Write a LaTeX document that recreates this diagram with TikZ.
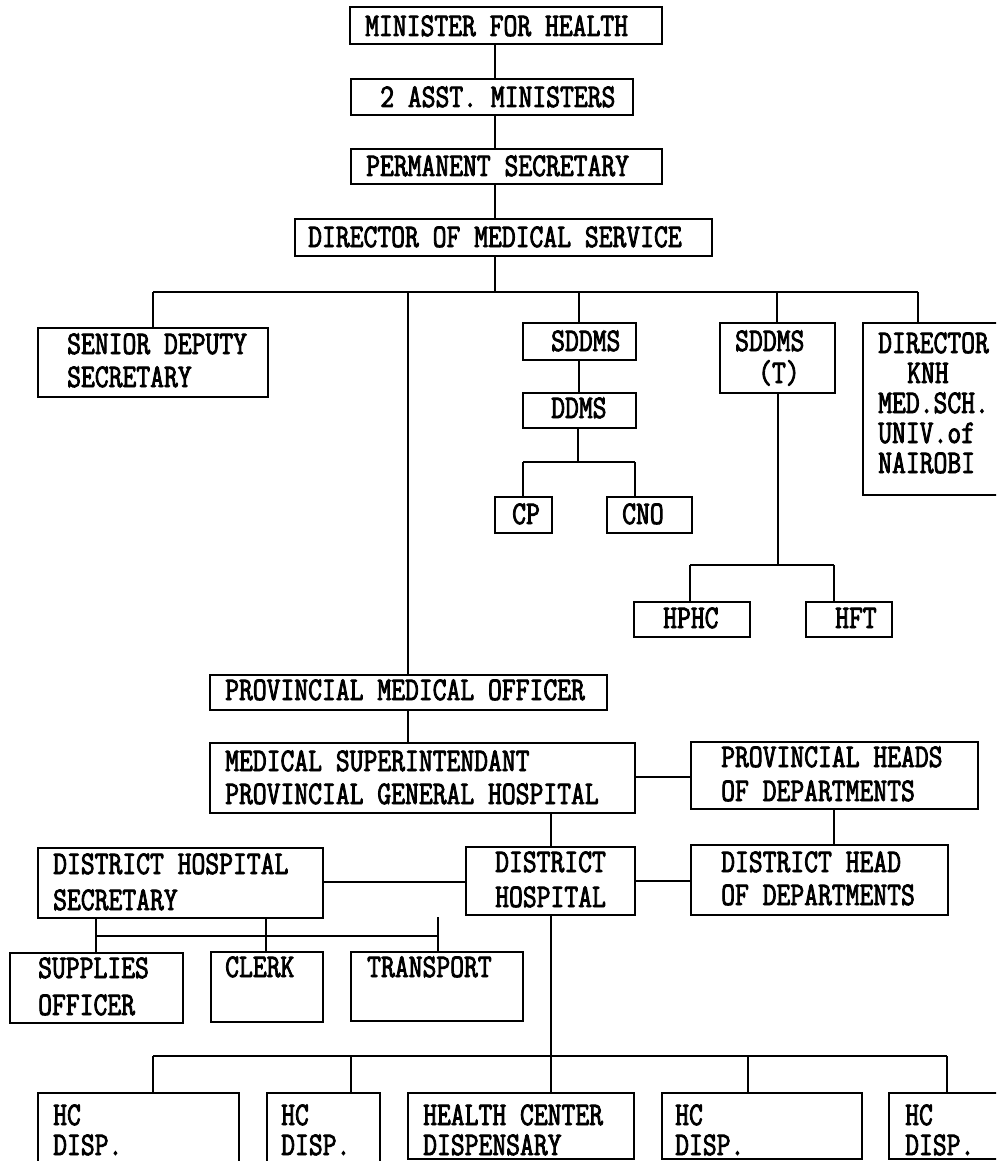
\documentclass[tikz,border=0pt]{standalone}
\usepackage{fontspec}
\newfontfamily\mfont[FakeStretch=0.814,FakeBold=2.5]{Latin Modern Mono}
\newcommand\lns[2]{\vtop{\baselineskip=#1pt\lineskiplimit=-\maxdimen\lineskip=0pt\halign{##\hfil\cr#2\crcr}}}
\tikzset{
  box/.style={draw, line width=1.2pt, inner sep=0pt, rectangle},
  txt/.style={anchor=base west, inner sep=0pt, font=\mfont\fontsize{33}{33}\selectfont},
  ln/.style={line width=1.2pt}
}
\newcommand\bx[5]{\node[box, minimum width={#4-#2}, minimum height={#5-#3}] (#1) at ({(#2+#4)/2},{(#3+#5)/2}) {};}
\begin{document}
\begin{tikzpicture}[x=1pt,y=-1pt]
\useasboundingbox (0,0) rectangle (996,1161);
\clip (0,0) rectangle (996,1161);
% boxes
\bx{min}{350}{7}{662}{44}
\bx{asst}{351}{79}{633}{115}
\bx{ps}{351}{149}{662}{184}
\bx{dms}{295}{219}{712}{256}
\bx{sds}{38}{328}{268}{397}
\bx{sddms}{523}{323}{636}{360}
\bx{ddms}{523}{393}{636}{428}
\bx{cp}{495}{497}{552}{533}
\bx{cno}{607}{497}{692}{533}
\bx{sddmst}{720}{323}{835}{393}
\bx{dir}{863}{323}{1002}{495}
\bx{hphc}{634}{602}{750}{637}
\bx{hft}{806}{602}{892}{637}
\bx{pmo}{210}{675}{607}{710}
\bx{ms}{210}{743}{635}{813}
\bx{phod}{691}{742}{978}{809}
\bx{dhs}{38}{848}{323}{918}
\bx{dh}{466}{847}{635}{915}
\bx{dhod}{691}{845}{948}{915}
\bx{sup}{10}{953}{183}{1023}
\bx{clerk}{211}{952}{323}{1022}
\bx{trans}{351}{952}{523}{1021}
\bx{bA}{38}{1093}{239}{1166}
\bx{bB}{267}{1093}{380}{1166}
\bx{bC}{408}{1093}{634}{1159}
\bx{bD}{662}{1093}{862}{1159}
\bx{bE}{889}{1093}{1002}{1159}
% texts
\node[txt] (min-t) at (365,36) {MINISTER FOR HEALTH};
\node[txt] (asst-t) at (380,107) {2 ASST. MINISTERS};
\node[txt] (ps-t) at (366,176) {PERMANENT SECRETARY};
\node[txt] (dms-t) at (308,247) {DIRECTOR OF MEDICAL SERVICE};
\node[txt] (sds-t) at (67,354) {\lns{33}{SENIOR DEPUTY\cr SECRETARY}};
\node[txt] (sddms-t) at (551,351) {SDDMS};
\node[txt] (ddms-t) at (551,418) {DDMS};
\node[txt] (cp-t) at (512,524) {CP};
\node[txt] (cno-t) at (622,524) {CNO};
\node[txt] (sddmst-t) at (735,351) {\lns{32}{SDDMS\cr\kern23pt(T)}};
\node[txt] (dir-t) at (878,353) {\lns{30}{DIRECTOR\cr\kern29pt KNH\cr MED.SCH.\cr UNIV.of\cr NAIROBI}};
\node[txt] (hphc-t) at (663,628) {HPHC};
\node[txt] (hft-t) at (835,628) {HFT};
\node[txt] (pmo-t) at (225,700) {PROVINCIAL MEDICAL OFFICER};
\node[txt] (ms-t) at (225,771) {\lns{33}{MEDICAL SUPERINTENDANT\cr PROVINCIAL GENERAL HOSPITAL}};
\node[txt] (phod-t) at (721,767) {\lns{34}{PROVINCIAL HEADS\cr OF DEPARTMENTS}};
\node[txt] (dhs-t) at (53,874) {\lns{36}{DISTRICT HOSPITAL\cr SECRETARY}};
\node[txt] (dh-t) at (495,872) {\lns{35}{DISTRICT\cr HOSPITAL}};
\node[txt] (dhod-t) at (721,872) {\lns{33}{DISTRICT HEAD\cr OF DEPARTMENTS}};
\node[txt] (sup-t) at (38,978) {\lns{37}{SUPPLIES\cr OFFICER}};
\node[txt] (clerk-t) at (225,977) {CLERK};
\node[txt] (trans-t) at (367,977) {TRANSPORT};
\node[txt] (bA-t) at (53,1125) {\lns{30}{HC\cr DISP.}};
\node[txt] (bB-t) at (281,1125) {\lns{30}{HC\cr DISP.}};
\node[txt] (bC-t) at (423,1125) {\lns{30}{HEALTH CENTER\cr DISPENSARY}};
\node[txt] (bD-t) at (675,1125) {\lns{30}{HC\cr DISP.}};
\node[txt] (bE-t) at (905,1125) {\lns{30}{HC\cr DISP.}};
% coordinates
\coordinate (tA) at (495,292);
\coordinate (bL) at (153,292);
\coordinate (bR) at (918,292);
\coordinate (bP) at (408,292);
\coordinate (bS) at (579,292);
\coordinate (bT) at (777,292);
\coordinate (cM) at (578,462);
\coordinate (cL) at (523,462);
\coordinate (cR) at (635,462);
\coordinate (hM) at (778,565);
\coordinate (hL) at (690,565);
\coordinate (hR) at (834,565);
\coordinate (yMP) at (0,777);
\coordinate (xPD) at (834,0);
\coordinate (xDH) at (551,0);
\coordinate (yDD) at (0,881);
\coordinate (yDS) at (0,882);
\coordinate (sL) at (96,936);
\coordinate (sC) at (266,936);
\coordinate (sR) at (438,936);
\coordinate (sT) at (438,917);
\coordinate (wL) at (153,1056);
\coordinate (wR) at (947,1056);
\coordinate (wC) at (551,1056);
\coordinate (wB) at (351,1056);
\coordinate (wD) at (748,1056);
% connectors
\draw[ln] (min.south -| tA) -- (asst.north -| tA);
\draw[ln] (asst.south -| tA) -- (ps.north -| tA);
\draw[ln] (ps.south -| tA) -- (dms.north -| tA);
\draw[ln] (dms.south -| tA) -- (tA);
\draw[ln] (bL) -- (bR);
\draw[ln] (bL) -- (sds.north -| bL);
\draw[ln] (bP) -- (pmo.north -| bP);
\draw[ln] (bS) -- (sddms.north -| bS);
\draw[ln] (bT) -- (sddmst.north -| bT);
\draw[ln] (bR) -- (dir.north -| bR);
\draw[ln] (sddms.south -| bS) -- (ddms.north -| bS);
\draw[ln] (ddms.south -| cM) -- (cM);
\draw[ln] (cL) -- (cR);
\draw[ln] (cL) -- (cp.north -| cL);
\draw[ln] (cR) -- (cno.north -| cR);
\draw[ln] (sddmst.south -| hM) -- (hM);
\draw[ln] (hL) -- (hR);
\draw[ln] (hL) -- (hphc.north -| hL);
\draw[ln] (hR) -- (hft.north -| hR);
\draw[ln] (pmo.south -| bP) -- (ms.north -| bP);
\draw[ln] (ms.east |- yMP) -- (phod.west |- yMP);
\draw[ln] (phod.south -| xPD) -- (dhod.north -| xPD);
\draw[ln] (ms.south -| xDH) -- (dh.north -| xDH);
\draw[ln] (dh.east |- yDD) -- (dhod.west |- yDD);
\draw[ln] (dhs.east |- yDS) -- (dh.west |- yDS);
\draw[ln] (dhs.south -| sL) -- (sup.north -| sL);
\draw[ln] (dhs.south -| sC) -- (clerk.north -| sC);
\draw[ln] (sL) -- (sR);
\draw[ln] (sT) -- (trans.north -| sT);
\draw[ln] (dh.south -| wC) -- (bC.north -| wC);
\draw[ln] (wL) -- (wR);
\draw[ln] (wL) -- (bA.north -| wL);
\draw[ln] (wB) -- (bB.north -| wB);
\draw[ln] (wD) -- (bD.north -| wD);
\draw[ln] (wR) -- (bE.north -| wR);
\end{tikzpicture}
\end{document}
